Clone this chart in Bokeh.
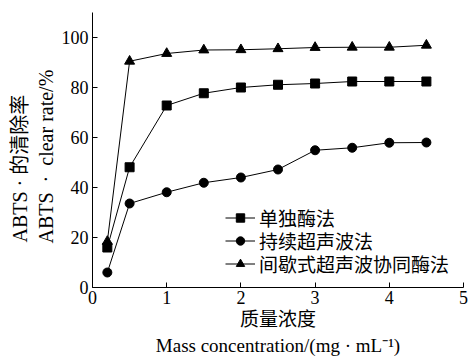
from bokeh.plotting import figure
from bokeh.models import Range1d, Legend, LegendItem, FixedTicker, Title
from bokeh.embed import file_html
from bokeh.resources import INLINE

x = [0.2, 0.5, 1, 1.5, 2, 2.5, 3, 3.5, 4, 4.5]
enzyme = [16, 48.1, 72.8, 77.7, 80, 81.1, 81.6, 82.4, 82.4, 82.4]
ultra = [6, 33.6, 38.1, 41.9, 44, 47.2, 54.9, 55.9, 57.9, 58]
combo = [18.4, 90.5, 93.6, 95, 95.1, 95.5, 96, 96.1, 96.1, 96.9]
names = ["单独酶法", "持续超声波法", "间歇式超声波协同酶法"]
xticks = [0, 1, 2, 3, 4, 5]
yticks = [0, 20, 40, 60, 80, 100]
ylabel_cn = "ABTS\u00a0·\u00a0的清除率"
ylabel_en = "ABTS\u00a0\u00a0·\u00a0\u00a0clear rate/%"
xlabel_cn = "质量浓度"
xlabel_en = "Mass concentration/(mg\u00a0·\u00a0mL⁻¹)"

FONT = "Liberation Serif, Noto Sans CJK SC, serif"
SERIF = "Liberation Serif"

p = figure(width=470, height=357, output_backend="svg", toolbar_location=None,
           x_range=Range1d(0, 5), y_range=Range1d(0, 110),
           min_border_left=92, min_border_right=7, min_border_top=12, min_border_bottom=70)
p.outline_line_color = None
p.grid.visible = False
p.background_fill_color = "white"
p.border_fill_color = "white"

for ax in (p.xaxis[0], p.yaxis[0]):
    ax.major_tick_in = 5
    ax.major_tick_out = 0
    ax.minor_tick_in = 0
    ax.minor_tick_out = 0
    ax.axis_line_color = "black"
    ax.major_tick_line_color = "black"
    ax.major_label_text_font = SERIF
    ax.major_label_text_font_size = "18px"
    ax.major_label_text_color = "black"
    ax.axis_label_text_font = FONT
    ax.axis_label_text_font_size = "19px"
    ax.axis_label_text_font_style = "normal"
    ax.axis_label_text_color = "black"

p.xaxis.ticker = FixedTicker(ticks=xticks)
p.yaxis.ticker = FixedTicker(ticks=yticks)
p.xaxis.major_label_standoff = 3
p.yaxis.major_label_standoff = 4
p.xaxis.axis_label = xlabel_cn
p.xaxis.axis_label_standoff = 2

sub = Title(text=xlabel_en, align="center",
            text_font=SERIF, text_font_size="19px", text_font_style="normal",
            text_color="black", standoff=0)
p.add_layout(sub, "below")

# y-axis label: two rotated lines on the left, starting near the same height
ytitle_en = Title(text=ylabel_en, align="left", offset=44,
                  text_font=SERIF, text_font_size="20px", text_font_style="normal",
                  text_color="black", standoff=4)
p.add_layout(ytitle_en, "left")
ytitle_cn = Title(text=ylabel_cn, align="left", offset=45,
                  text_font=FONT, text_font_size="20px", text_font_style="normal",
                  text_color="black", standoff=0)
p.add_layout(ytitle_cn, "left")

l1 = p.line(x, enzyme, color="black", line_width=1)
m1 = p.scatter(x, enzyme, marker="square", size=9, color="black")
l2 = p.line(x, ultra, color="black", line_width=1)
m2 = p.scatter(x, ultra, marker="circle", size=9, color="black")
l3 = p.line(x, combo, color="black", line_width=1)
m3 = p.scatter(x, combo, marker="triangle", size=10, color="black")

row_offsets = [56, 33, 10]
for name, rends, yoff in zip(names, [[l1, m1], [l2, m2], [l3, m3]], row_offsets):
    lg = Legend(items=[LegendItem(label=name, renderers=rends)], location=(133, yoff))
    lg.background_fill_alpha = 0
    lg.border_line_color = None
    lg.padding = 0
    lg.margin = 0
    lg.spacing = 0
    lg.glyph_width = 30
    lg.glyph_height = 21
    lg.label_height = 21
    lg.label_standoff = 4
    lg.label_text_font = FONT
    lg.label_text_font_size = "19px"
    lg.label_text_color = "black"
    p.add_layout(lg, "center")

open("out.html", "w").write(file_html(p, INLINE))
